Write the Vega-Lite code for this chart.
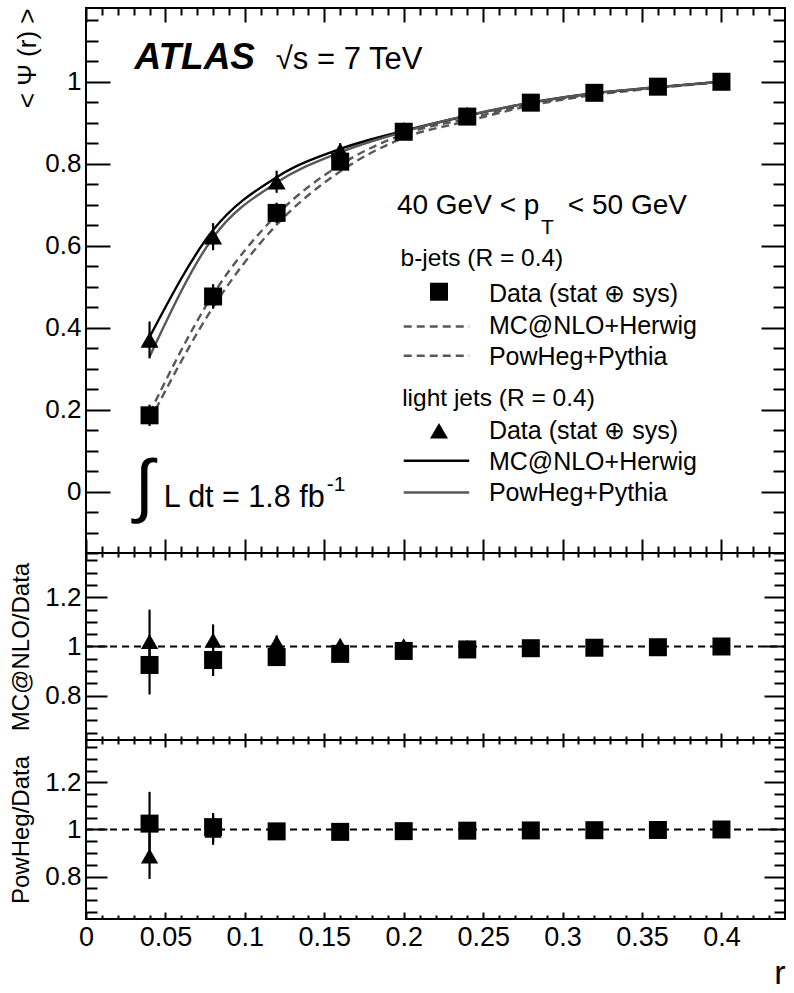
{
  "$schema": "https://vega.github.io/schema/vega-lite/v6.json",
  "padding": {"left": 8, "top": 6, "right": 10, "bottom": 5},
  "spacing": 0,
  "bounds": "flush",
  "config": {
    "view": {"stroke": "black", "strokeWidth": 2},
    "axis": {"grid": false, "domain": false, "labelFont": "Liberation Sans", "labelFontSize": 26, "labelColor": "black", "tickColor": "black", "tickWidth": 2, "labelFlush": false, "labelOverlap": false, "titleFont": "Liberation Sans", "titleFontWeight": "normal", "titleColor": "black"},
    "text": {"font": "Liberation Sans", "color": "black"}
  },
  "datasets": {
    "psi": [
      {"r": 0.04, "jet": "b", "val": 0.186, "lo": 0.160, "hi": 0.212},
      {"r": 0.08, "jet": "b", "val": 0.476, "lo": 0.446, "hi": 0.506},
      {"r": 0.12, "jet": "b", "val": 0.680, "lo": 0.655, "hi": 0.705},
      {"r": 0.16, "jet": "b", "val": 0.805, "lo": 0.785, "hi": 0.825},
      {"r": 0.20, "jet": "b", "val": 0.878, "lo": 0.866, "hi": 0.890},
      {"r": 0.24, "jet": "b", "val": 0.915, "lo": 0.905, "hi": 0.925},
      {"r": 0.28, "jet": "b", "val": 0.949, "lo": 0.941, "hi": 0.957},
      {"r": 0.32, "jet": "b", "val": 0.973, "lo": 0.967, "hi": 0.979},
      {"r": 0.36, "jet": "b", "val": 0.988, "lo": 0.984, "hi": 0.992},
      {"r": 0.40, "jet": "b", "val": 1.0, "lo": 1.0, "hi": 1.0},
      {"r": 0.04, "jet": "light", "val": 0.370, "lo": 0.325, "hi": 0.415},
      {"r": 0.08, "jet": "light", "val": 0.622, "lo": 0.589, "hi": 0.655},
      {"r": 0.12, "jet": "light", "val": 0.756, "lo": 0.729, "hi": 0.783},
      {"r": 0.16, "jet": "light", "val": 0.832, "lo": 0.814, "hi": 0.850},
      {"r": 0.20, "jet": "light", "val": 0.883, "lo": 0.871, "hi": 0.895},
      {"r": 0.24, "jet": "light", "val": 0.920, "lo": 0.911, "hi": 0.929},
      {"r": 0.28, "jet": "light", "val": 0.951, "lo": 0.944, "hi": 0.958},
      {"r": 0.32, "jet": "light", "val": 0.973, "lo": 0.968, "hi": 0.978},
      {"r": 0.36, "jet": "light", "val": 0.988, "lo": 0.985, "hi": 0.991},
      {"r": 0.40, "jet": "light", "val": 1.0, "lo": 1.0, "hi": 1.0}
    ],
    "mc": [
      {"r": 0.04, "jet": "b", "gen": "MC@NLO+Herwig", "val": 0.172},
      {"r": 0.08, "jet": "b", "gen": "MC@NLO+Herwig", "val": 0.450},
      {"r": 0.12, "jet": "b", "gen": "MC@NLO+Herwig", "val": 0.651},
      {"r": 0.16, "jet": "b", "gen": "MC@NLO+Herwig", "val": 0.781},
      {"r": 0.20, "jet": "b", "gen": "MC@NLO+Herwig", "val": 0.863},
      {"r": 0.24, "jet": "b", "gen": "MC@NLO+Herwig", "val": 0.904},
      {"r": 0.28, "jet": "b", "gen": "MC@NLO+Herwig", "val": 0.942},
      {"r": 0.32, "jet": "b", "gen": "MC@NLO+Herwig", "val": 0.968},
      {"r": 0.36, "jet": "b", "gen": "MC@NLO+Herwig", "val": 0.985},
      {"r": 0.40, "jet": "b", "gen": "MC@NLO+Herwig", "val": 1.0},
      {"r": 0.04, "jet": "b", "gen": "PowHeg+Pythia", "val": 0.191},
      {"r": 0.08, "jet": "b", "gen": "PowHeg+Pythia", "val": 0.481},
      {"r": 0.12, "jet": "b", "gen": "PowHeg+Pythia", "val": 0.675},
      {"r": 0.16, "jet": "b", "gen": "PowHeg+Pythia", "val": 0.797},
      {"r": 0.20, "jet": "b", "gen": "PowHeg+Pythia", "val": 0.872},
      {"r": 0.24, "jet": "b", "gen": "PowHeg+Pythia", "val": 0.910},
      {"r": 0.28, "jet": "b", "gen": "PowHeg+Pythia", "val": 0.945},
      {"r": 0.32, "jet": "b", "gen": "PowHeg+Pythia", "val": 0.970},
      {"r": 0.36, "jet": "b", "gen": "PowHeg+Pythia", "val": 0.986},
      {"r": 0.40, "jet": "b", "gen": "PowHeg+Pythia", "val": 1.0},
      {"r": 0.04, "jet": "light", "gen": "MC@NLO+Herwig", "val": 0.377},
      {"r": 0.08, "jet": "light", "gen": "MC@NLO+Herwig", "val": 0.638},
      {"r": 0.12, "jet": "light", "gen": "MC@NLO+Herwig", "val": 0.767},
      {"r": 0.16, "jet": "light", "gen": "MC@NLO+Herwig", "val": 0.836},
      {"r": 0.20, "jet": "light", "gen": "MC@NLO+Herwig", "val": 0.880},
      {"r": 0.24, "jet": "light", "gen": "MC@NLO+Herwig", "val": 0.917},
      {"r": 0.28, "jet": "light", "gen": "MC@NLO+Herwig", "val": 0.949},
      {"r": 0.32, "jet": "light", "gen": "MC@NLO+Herwig", "val": 0.972},
      {"r": 0.36, "jet": "light", "gen": "MC@NLO+Herwig", "val": 0.987},
      {"r": 0.40, "jet": "light", "gen": "MC@NLO+Herwig", "val": 1.0},
      {"r": 0.04, "jet": "light", "gen": "PowHeg+Pythia", "val": 0.329},
      {"r": 0.08, "jet": "light", "gen": "PowHeg+Pythia", "val": 0.620},
      {"r": 0.12, "jet": "light", "gen": "PowHeg+Pythia", "val": 0.754},
      {"r": 0.16, "jet": "light", "gen": "PowHeg+Pythia", "val": 0.828},
      {"r": 0.20, "jet": "light", "gen": "PowHeg+Pythia", "val": 0.878},
      {"r": 0.24, "jet": "light", "gen": "PowHeg+Pythia", "val": 0.918},
      {"r": 0.28, "jet": "light", "gen": "PowHeg+Pythia", "val": 0.949},
      {"r": 0.32, "jet": "light", "gen": "PowHeg+Pythia", "val": 0.972},
      {"r": 0.36, "jet": "light", "gen": "PowHeg+Pythia", "val": 0.987},
      {"r": 0.40, "jet": "light", "gen": "PowHeg+Pythia", "val": 1.0}
    ],
    "ratio": [
      {"r": 0.04, "jet": "b", "gen": "mc", "ratio": 0.925, "lo": 0.805, "hi": 1.045},
      {"r": 0.08, "jet": "b", "gen": "mc", "ratio": 0.945, "lo": 0.880, "hi": 1.010},
      {"r": 0.12, "jet": "b", "gen": "mc", "ratio": 0.957, "lo": 0.930, "hi": 0.985},
      {"r": 0.16, "jet": "b", "gen": "mc", "ratio": 0.970, "lo": 0.955, "hi": 0.985},
      {"r": 0.20, "jet": "b", "gen": "mc", "ratio": 0.982, "lo": 0.975, "hi": 0.990},
      {"r": 0.24, "jet": "b", "gen": "mc", "ratio": 0.988, "lo": 0.983, "hi": 0.993},
      {"r": 0.28, "jet": "b", "gen": "mc", "ratio": 0.993, "lo": 0.990, "hi": 0.996},
      {"r": 0.32, "jet": "b", "gen": "mc", "ratio": 0.995, "lo": 0.992, "hi": 0.998},
      {"r": 0.36, "jet": "b", "gen": "mc", "ratio": 0.997, "lo": 0.995, "hi": 0.999},
      {"r": 0.40, "jet": "b", "gen": "mc", "ratio": 1.0, "lo": 1.0, "hi": 1.0},
      {"r": 0.04, "jet": "light", "gen": "mc", "ratio": 1.020, "lo": 0.890, "hi": 1.150},
      {"r": 0.08, "jet": "light", "gen": "mc", "ratio": 1.025, "lo": 0.960, "hi": 1.090},
      {"r": 0.12, "jet": "light", "gen": "mc", "ratio": 1.015, "lo": 0.985, "hi": 1.045},
      {"r": 0.16, "jet": "light", "gen": "mc", "ratio": 1.005, "lo": 0.985, "hi": 1.025},
      {"r": 0.20, "jet": "light", "gen": "mc", "ratio": 1.003, "lo": 0.990, "hi": 1.015},
      {"r": 0.24, "jet": "light", "gen": "mc", "ratio": 0.997, "lo": 0.990, "hi": 1.004},
      {"r": 0.28, "jet": "light", "gen": "mc", "ratio": 0.996, "lo": 0.992, "hi": 1.000},
      {"r": 0.32, "jet": "light", "gen": "mc", "ratio": 0.997, "lo": 0.994, "hi": 1.000},
      {"r": 0.36, "jet": "light", "gen": "mc", "ratio": 0.998, "lo": 0.996, "hi": 1.000},
      {"r": 0.40, "jet": "light", "gen": "mc", "ratio": 1.0, "lo": 1.0, "hi": 1.0},
      {"r": 0.04, "jet": "b", "gen": "pow", "ratio": 1.025, "lo": 0.890, "hi": 1.160},
      {"r": 0.08, "jet": "b", "gen": "pow", "ratio": 1.010, "lo": 0.950, "hi": 1.070},
      {"r": 0.12, "jet": "b", "gen": "pow", "ratio": 0.992, "lo": 0.975, "hi": 1.009},
      {"r": 0.16, "jet": "b", "gen": "pow", "ratio": 0.990, "lo": 0.980, "hi": 1.000},
      {"r": 0.20, "jet": "b", "gen": "pow", "ratio": 0.993, "lo": 0.987, "hi": 0.999},
      {"r": 0.24, "jet": "b", "gen": "pow", "ratio": 0.995, "lo": 0.990, "hi": 1.000},
      {"r": 0.28, "jet": "b", "gen": "pow", "ratio": 0.996, "lo": 0.992, "hi": 1.000},
      {"r": 0.32, "jet": "b", "gen": "pow", "ratio": 0.997, "lo": 0.994, "hi": 1.000},
      {"r": 0.36, "jet": "b", "gen": "pow", "ratio": 0.998, "lo": 0.996, "hi": 1.000},
      {"r": 0.40, "jet": "b", "gen": "pow", "ratio": 1.0, "lo": 1.0, "hi": 1.0},
      {"r": 0.04, "jet": "light", "gen": "pow", "ratio": 0.887, "lo": 0.790, "hi": 0.985},
      {"r": 0.08, "jet": "light", "gen": "pow", "ratio": 0.997, "lo": 0.935, "hi": 1.060},
      {"r": 0.12, "jet": "light", "gen": "pow", "ratio": 0.997, "lo": 0.980, "hi": 1.014},
      {"r": 0.16, "jet": "light", "gen": "pow", "ratio": 0.995, "lo": 0.985, "hi": 1.005},
      {"r": 0.20, "jet": "light", "gen": "pow", "ratio": 0.997, "lo": 0.990, "hi": 1.004},
      {"r": 0.24, "jet": "light", "gen": "pow", "ratio": 0.998, "lo": 0.993, "hi": 1.003},
      {"r": 0.28, "jet": "light", "gen": "pow", "ratio": 0.998, "lo": 0.995, "hi": 1.001},
      {"r": 0.32, "jet": "light", "gen": "pow", "ratio": 0.999, "lo": 0.997, "hi": 1.001},
      {"r": 0.36, "jet": "light", "gen": "pow", "ratio": 0.999, "lo": 0.998, "hi": 1.000},
      {"r": 0.40, "jet": "light", "gen": "pow", "ratio": 1.0, "lo": 1.0, "hi": 1.0}
    ]
  },
  "vconcat": [
    {
      "width": 699,
      "height": 545,
      "resolve": {"axis": {"x": "independent", "y": "independent"}},
      "layer": [
        {
          "data": {"name": "mc"},
          "transform": [{"filter": "datum.jet == 'b'"}],
          "mark": {"type": "line", "interpolate": "monotone", "color": "#585858", "strokeWidth": 2.4, "strokeDash": [8, 5]},
          "encoding": {
            "x": {"field": "r", "type": "quantitative", "scale": {"domain": [0, 0.44], "nice": false, "zero": false},
                  "axis": {"orient": "bottom", "values": [0, 0.05, 0.1, 0.15, 0.2, 0.25, 0.3, 0.35, 0.4], "tickSize": -14, "labels": false, "title": null}},
            "y": {"field": "val", "type": "quantitative", "scale": {"domain": [-0.15, 1.18], "nice": false, "zero": false},
                  "axis": {"orient": "left", "values": [0, 0.2, 0.4, 0.6, 0.8, 1], "tickSize": -24, "labelPadding": 29, "format": "~g", "title": "< Ψ (r) >", "titleFontSize": 26, "titleAnchor": "end", "titlePadding": 4}},
            "detail": {"field": "gen"}
          }
        },
        {
          "data": {"name": "mc"},
          "transform": [{"filter": "datum.jet == 'light'"}],
          "mark": {"type": "line", "interpolate": "monotone", "strokeWidth": 2.4},
          "encoding": {
            "x": {"field": "r", "type": "quantitative",
                  "axis": {"orient": "bottom", "values": [0.01,0.02,0.03,0.04,0.06,0.07,0.08,0.09,0.11,0.12,0.13,0.14,0.16,0.17,0.18,0.19,0.21,0.22,0.23,0.24,0.26,0.27,0.28,0.29,0.31,0.32,0.33,0.34,0.36,0.37,0.38,0.39,0.41,0.42,0.43], "tickSize": -7, "labels": false, "title": null}},
            "y": {"field": "val", "type": "quantitative",
                  "axis": {"orient": "left", "values": [-0.15,-0.1,-0.05,0.05,0.1,0.15,0.25,0.3,0.35,0.45,0.5,0.55,0.65,0.7,0.75,0.85,0.9,0.95,1.05,1.1,1.15], "tickSize": -12, "labels": false, "title": null}},
            "color": {"field": "gen", "type": "nominal", "scale": {"domain": ["MC@NLO+Herwig", "PowHeg+Pythia"], "range": ["#000000", "#585858"]}, "legend": null}
          }
        },
        {
          "data": {"name": "psi"},
          "mark": {"type": "rule", "color": "black", "strokeWidth": 2.2},
          "encoding": {
            "x": {"field": "r", "type": "quantitative",
                  "axis": {"orient": "top", "values": [0, 0.05, 0.1, 0.15, 0.2, 0.25, 0.3, 0.35, 0.4], "tickSize": -14, "labels": false, "title": null}},
            "y": {"field": "lo", "type": "quantitative",
                  "axis": {"orient": "right", "values": [0, 0.2, 0.4, 0.6, 0.8, 1], "tickSize": -24, "labels": false, "title": null}},
            "y2": {"field": "hi"}
          }
        },
        {
          "data": {"name": "psi"},
          "transform": [{"filter": "datum.jet == 'light'"}],
          "mark": {"type": "point", "shape": "triangle-up", "filled": true, "color": "black", "opacity": 1, "size": 324},
          "encoding": {
            "x": {"field": "r", "type": "quantitative",
                  "axis": {"orient": "top", "values": [0.01,0.02,0.03,0.04,0.06,0.07,0.08,0.09,0.11,0.12,0.13,0.14,0.16,0.17,0.18,0.19,0.21,0.22,0.23,0.24,0.26,0.27,0.28,0.29,0.31,0.32,0.33,0.34,0.36,0.37,0.38,0.39,0.41,0.42,0.43], "tickSize": -7, "labels": false, "title": null}},
            "y": {"field": "val", "type": "quantitative",
                  "axis": {"orient": "right", "values": [-0.15,-0.1,-0.05,0.05,0.1,0.15,0.25,0.3,0.35,0.45,0.5,0.55,0.65,0.7,0.75,0.85,0.9,0.95,1.05,1.1,1.15], "tickSize": -12, "labels": false, "title": null}}
          }
        },
        {
          "data": {"name": "psi"},
          "transform": [{"filter": "datum.jet == 'b'"}],
          "mark": {"type": "point", "shape": "square", "filled": true, "color": "black", "opacity": 1, "size": 324},
          "encoding": {
            "x": {"field": "r", "type": "quantitative", "axis": null},
            "y": {"field": "val", "type": "quantitative", "axis": null}
          }
        },
        {
          "data": {"values": [{}]},
          "mark": {"type": "text", "align": "left", "baseline": "alphabetic", "fontSize": 37, "fontWeight": "bold", "fontStyle": "italic"},
          "encoding": {"x": {"datum": 0.0305, "type": "quantitative", "axis": null}, "y": {"datum": 1.0305, "type": "quantitative", "axis": null}, "text": {"value": "ATLAS"}}
        },
        {
          "data": {"values": [{}]},
          "mark": {"type": "text", "align": "left", "baseline": "alphabetic", "fontSize": 31},
          "encoding": {"x": {"datum": 0.1195, "type": "quantitative", "axis": null}, "y": {"datum": 1.0305, "type": "quantitative", "axis": null}, "text": {"value": "√s = 7 TeV"}}
        },
        {
          "data": {"values": [{}]},
          "mark": {"type": "text", "align": "center", "baseline": "middle", "fontSize": 70},
          "encoding": {"x": {"datum": 0.0365, "type": "quantitative", "axis": null}, "y": {"datum": 0.009, "type": "quantitative", "axis": null}, "text": {"value": "∫"}}
        },
        {
          "data": {"values": [{}]},
          "mark": {"type": "text", "align": "left", "baseline": "alphabetic", "fontSize": 30.5},
          "encoding": {"x": {"datum": 0.049, "type": "quantitative", "axis": null}, "y": {"datum": -0.0388, "type": "quantitative", "axis": null}, "text": {"value": "L dt = 1.8 fb"}}
        },
        {
          "data": {"values": [{}]},
          "mark": {"type": "text", "align": "left", "baseline": "alphabetic", "fontSize": 21},
          "encoding": {"x": {"datum": 0.1515, "type": "quantitative", "axis": null}, "y": {"datum": 0.002, "type": "quantitative", "axis": null}, "text": {"value": "-1"}}
        },
        {
          "data": {"values": [{}]},
          "mark": {"type": "text", "align": "left", "baseline": "alphabetic", "fontSize": 28},
          "encoding": {"x": {"datum": 0.1957, "type": "quantitative", "axis": null}, "y": {"datum": 0.677, "type": "quantitative", "axis": null}, "text": {"value": "40 GeV < p"}}
        },
        {
          "data": {"values": [{}]},
          "mark": {"type": "text", "align": "left", "baseline": "alphabetic", "fontSize": 21},
          "encoding": {"x": {"datum": 0.2864, "type": "quantitative", "axis": null}, "y": {"datum": 0.629, "type": "quantitative", "axis": null}, "text": {"value": "T"}}
        },
        {
          "data": {"values": [{}]},
          "mark": {"type": "text", "align": "left", "baseline": "alphabetic", "fontSize": 28},
          "encoding": {"x": {"datum": 0.3033, "type": "quantitative", "axis": null}, "y": {"datum": 0.677, "type": "quantitative", "axis": null}, "text": {"value": "< 50 GeV"}}
        },
        {
          "data": {"values": [{}]},
          "mark": {"type": "text", "align": "left", "baseline": "alphabetic", "fontSize": 24.5},
          "encoding": {"x": {"datum": 0.198, "type": "quantitative", "axis": null}, "y": {"datum": 0.551, "type": "quantitative", "axis": null}, "text": {"value": "b-jets (R = 0.4)"}}
        },
        {
          "data": {"values": [{}]},
          "mark": {"type": "text", "align": "left", "baseline": "alphabetic", "fontSize": 24.5},
          "encoding": {"x": {"datum": 0.199, "type": "quantitative", "axis": null}, "y": {"datum": 0.2094, "type": "quantitative", "axis": null}, "text": {"value": "light jets (R = 0.4)"}}
        },
        {
          "data": {"values": [{}]},
          "mark": {"type": "text", "align": "left", "baseline": "alphabetic", "fontSize": 25, "lineHeight": 31.3},
          "encoding": {"x": {"datum": 0.2536, "type": "quantitative", "axis": null}, "y": {"datum": 0.462, "type": "quantitative", "axis": null}, "text": {"value": ["Data (stat ⊕ sys)", "MC@NLO+Herwig", "PowHeg+Pythia"]}}
        },
        {
          "data": {"values": [{}]},
          "mark": {"type": "text", "align": "left", "baseline": "alphabetic", "fontSize": 25, "lineHeight": 31.3},
          "encoding": {"x": {"datum": 0.2536, "type": "quantitative", "axis": null}, "y": {"datum": 0.1294, "type": "quantitative", "axis": null}, "text": {"value": ["Data (stat ⊕ sys)", "MC@NLO+Herwig", "PowHeg+Pythia"]}}
        },
        {
          "data": {"values": [{}]},
          "mark": {"type": "point", "shape": "square", "filled": true, "color": "black", "opacity": 1, "size": 324},
          "encoding": {"x": {"datum": 0.2222, "type": "quantitative", "axis": null}, "y": {"datum": 0.4876, "type": "quantitative", "axis": null}}
        },
        {
          "data": {"values": [{}]},
          "mark": {"type": "point", "shape": "triangle-up", "filled": true, "color": "black", "opacity": 1, "size": 324},
          "encoding": {"x": {"datum": 0.2222, "type": "quantitative", "axis": null}, "y": {"datum": 0.1484, "type": "quantitative", "axis": null}}
        },
        {
          "data": {"values": [{}]},
          "mark": {"type": "rule", "color": "#585858", "strokeWidth": 2.4, "strokeDash": [8, 5]},
          "encoding": {"x": {"datum": 0.2, "type": "quantitative", "axis": null}, "x2": {"datum": 0.2412}, "y": {"datum": 0.4029, "type": "quantitative", "axis": null}}
        },
        {
          "data": {"values": [{}]},
          "mark": {"type": "rule", "color": "#585858", "strokeWidth": 2.4, "strokeDash": [8, 5]},
          "encoding": {"x": {"datum": 0.2, "type": "quantitative", "axis": null}, "x2": {"datum": 0.2412}, "y": {"datum": 0.3314, "type": "quantitative", "axis": null}}
        },
        {
          "data": {"values": [{}]},
          "mark": {"type": "rule", "color": "#000000", "strokeWidth": 2.4},
          "encoding": {"x": {"datum": 0.2, "type": "quantitative", "axis": null}, "x2": {"datum": 0.2412}, "y": {"datum": 0.0752, "type": "quantitative", "axis": null}}
        },
        {
          "data": {"values": [{}]},
          "mark": {"type": "rule", "color": "#585858", "strokeWidth": 2.4},
          "encoding": {"x": {"datum": 0.2, "type": "quantitative", "axis": null}, "x2": {"datum": 0.2412}, "y": {"datum": -0.0022, "type": "quantitative", "axis": null}}
        }
      ]
    },
    {
      "width": 699,
      "height": 187,
      "resolve": {"axis": {"x": "independent", "y": "independent"}},
      "layer": [
        {
          "data": {"values": [{}]},
          "mark": {"type": "rule", "color": "black", "strokeWidth": 2.2, "strokeDash": [7, 5]},
          "encoding": {
            "x": {"datum": 0, "type": "quantitative", "scale": {"domain": [0, 0.44], "nice": false, "zero": false},
                  "axis": {"orient": "bottom", "values": [0, 0.05, 0.1, 0.15, 0.2, 0.25, 0.3, 0.35, 0.4], "tickSize": -7, "labels": false, "title": null}},
            "x2": {"datum": 0.44},
            "y": {"datum": 1, "type": "quantitative", "scale": {"domain": [0.62, 1.38], "nice": false, "zero": false},
                  "axis": {"orient": "left", "values": [0.8, 1, 1.2], "tickSize": -21, "labelPadding": 26, "format": "~g", "title": "MC@NLO/Data", "titleFontSize": 24, "titlePadding": 11}}
          }
        },
        {
          "data": {"name": "ratio"},
          "transform": [{"filter": "datum.gen == 'mc'"}],
          "mark": {"type": "rule", "color": "black", "strokeWidth": 2.2},
          "encoding": {
            "x": {"field": "r", "type": "quantitative",
                  "axis": {"orient": "bottom", "values": [0.01,0.02,0.03,0.04,0.06,0.07,0.08,0.09,0.11,0.12,0.13,0.14,0.16,0.17,0.18,0.19,0.21,0.22,0.23,0.24,0.26,0.27,0.28,0.29,0.31,0.32,0.33,0.34,0.36,0.37,0.38,0.39,0.41,0.42,0.43], "tickSize": -4, "labels": false, "title": null}},
            "y": {"field": "lo", "type": "quantitative",
                  "axis": {"orient": "left", "values": [0.65,0.7,0.75,0.85,0.9,0.95,1.05,1.1,1.15,1.25,1.3,1.35], "tickSize": -11, "labels": false, "title": null}},
            "y2": {"field": "hi"}
          }
        },
        {
          "data": {"name": "ratio"},
          "transform": [{"filter": "datum.gen == 'mc' && datum.jet == 'light'"}],
          "mark": {"type": "point", "shape": "triangle-up", "filled": true, "color": "black", "opacity": 1, "size": 300},
          "encoding": {
            "x": {"field": "r", "type": "quantitative",
                  "axis": {"orient": "top", "values": [0, 0.05, 0.1, 0.15, 0.2, 0.25, 0.3, 0.35, 0.4], "tickSize": -7, "labels": false, "title": null}},
            "y": {"field": "ratio", "type": "quantitative",
                  "axis": {"orient": "right", "values": [0.8, 1, 1.2], "tickSize": -21, "labels": false, "title": null}}
          }
        },
        {
          "data": {"name": "ratio"},
          "transform": [{"filter": "datum.gen == 'mc' && datum.jet == 'b'"}],
          "mark": {"type": "point", "shape": "square", "filled": true, "color": "black", "opacity": 1, "size": 324},
          "encoding": {
            "x": {"field": "r", "type": "quantitative",
                  "axis": {"orient": "top", "values": [0.01,0.02,0.03,0.04,0.06,0.07,0.08,0.09,0.11,0.12,0.13,0.14,0.16,0.17,0.18,0.19,0.21,0.22,0.23,0.24,0.26,0.27,0.28,0.29,0.31,0.32,0.33,0.34,0.36,0.37,0.38,0.39,0.41,0.42,0.43], "tickSize": -4, "labels": false, "title": null}},
            "y": {"field": "ratio", "type": "quantitative",
                  "axis": {"orient": "right", "values": [0.65,0.7,0.75,0.85,0.9,0.95,1.05,1.1,1.15,1.25,1.3,1.35], "tickSize": -11, "labels": false, "title": null}}
          }
        }
      ]
    },
    {
      "width": 699,
      "height": 179,
      "resolve": {"axis": {"x": "independent", "y": "independent"}},
      "layer": [
        {
          "data": {"values": [{}]},
          "mark": {"type": "rule", "color": "black", "strokeWidth": 2.2, "strokeDash": [7, 5]},
          "encoding": {
            "x": {"datum": 0, "type": "quantitative", "scale": {"domain": [0, 0.44], "nice": false, "zero": false},
                  "axis": {"orient": "bottom", "values": [0, 0.05, 0.1, 0.15, 0.2, 0.25, 0.3, 0.35, 0.4], "tickSize": -7, "labelPadding": 12, "labelFontSize": 27, "format": "~g", "title": "r", "titleFontSize": 34, "titleAnchor": "end", "titlePadding": 6}},
            "x2": {"datum": 0.44},
            "y": {"datum": 1, "type": "quantitative", "scale": {"domain": [0.62, 1.38], "nice": false, "zero": false},
                  "axis": {"orient": "left", "values": [0.8, 1, 1.2], "tickSize": -21, "labelPadding": 26, "format": "~g", "title": "PowHeg/Data", "titleFontSize": 24, "titlePadding": 11}}
          }
        },
        {
          "data": {"name": "ratio"},
          "transform": [{"filter": "datum.gen == 'pow'"}],
          "mark": {"type": "rule", "color": "black", "strokeWidth": 2.2},
          "encoding": {
            "x": {"field": "r", "type": "quantitative",
                  "axis": {"orient": "bottom", "values": [0.01,0.02,0.03,0.04,0.06,0.07,0.08,0.09,0.11,0.12,0.13,0.14,0.16,0.17,0.18,0.19,0.21,0.22,0.23,0.24,0.26,0.27,0.28,0.29,0.31,0.32,0.33,0.34,0.36,0.37,0.38,0.39,0.41,0.42,0.43], "tickSize": -4, "labels": false, "title": null}},
            "y": {"field": "lo", "type": "quantitative",
                  "axis": {"orient": "left", "values": [0.65,0.7,0.75,0.85,0.9,0.95,1.05,1.1,1.15,1.25,1.3,1.35], "tickSize": -11, "labels": false, "title": null}},
            "y2": {"field": "hi"}
          }
        },
        {
          "data": {"name": "ratio"},
          "transform": [{"filter": "datum.gen == 'pow' && datum.jet == 'light'"}],
          "mark": {"type": "point", "shape": "triangle-up", "filled": true, "color": "black", "opacity": 1, "size": 300},
          "encoding": {
            "x": {"field": "r", "type": "quantitative",
                  "axis": {"orient": "top", "values": [0, 0.05, 0.1, 0.15, 0.2, 0.25, 0.3, 0.35, 0.4], "tickSize": -7, "labels": false, "title": null}},
            "y": {"field": "ratio", "type": "quantitative",
                  "axis": {"orient": "right", "values": [0.8, 1, 1.2], "tickSize": -21, "labels": false, "title": null}}
          }
        },
        {
          "data": {"name": "ratio"},
          "transform": [{"filter": "datum.gen == 'pow' && datum.jet == 'b'"}],
          "mark": {"type": "point", "shape": "square", "filled": true, "color": "black", "opacity": 1, "size": 324},
          "encoding": {
            "x": {"field": "r", "type": "quantitative",
                  "axis": {"orient": "top", "values": [0.01,0.02,0.03,0.04,0.06,0.07,0.08,0.09,0.11,0.12,0.13,0.14,0.16,0.17,0.18,0.19,0.21,0.22,0.23,0.24,0.26,0.27,0.28,0.29,0.31,0.32,0.33,0.34,0.36,0.37,0.38,0.39,0.41,0.42,0.43], "tickSize": -4, "labels": false, "title": null}},
            "y": {"field": "ratio", "type": "quantitative",
                  "axis": {"orient": "right", "values": [0.65,0.7,0.75,0.85,0.9,0.95,1.05,1.1,1.15,1.25,1.3,1.35], "tickSize": -11, "labels": false, "title": null}}
          }
        }
      ]
    }
  ]
}
